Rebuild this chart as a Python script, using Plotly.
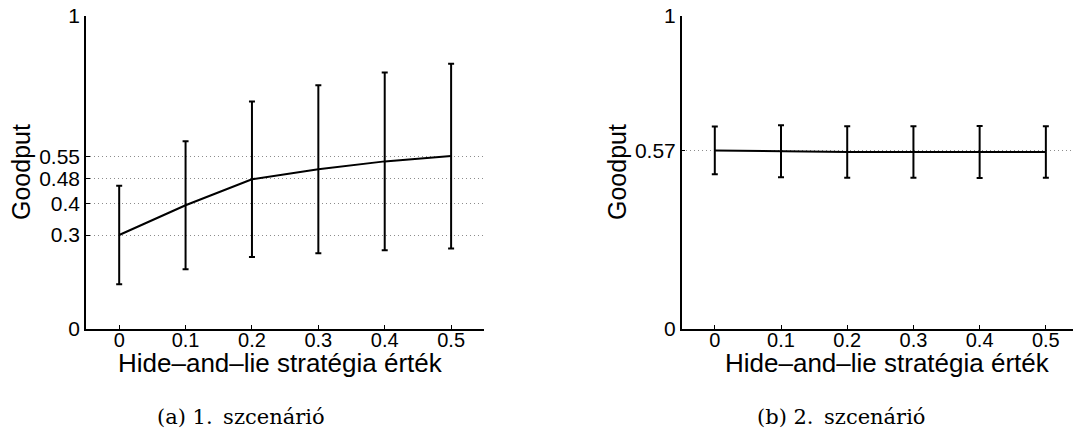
import plotly.graph_objects as go

# ---- data ----
strategy = [0, 0.1, 0.2, 0.3, 0.4, 0.5]
goodput_a = [0.300, 0.395, 0.478, 0.510, 0.535, 0.552]
err_a = [0.157, 0.204, 0.248, 0.268, 0.284, 0.295]
goodput_b = [0.570, 0.567, 0.565, 0.565, 0.565, 0.565]
err_b = [0.076, 0.083, 0.082, 0.082, 0.083, 0.082]
yticks_a = [0, 0.3, 0.4, 0.48, 0.55, 1]
yticks_b = [0, 0.57, 1]
xticks = [0, 0.1, 0.2, 0.3, 0.4, 0.5]
xlabel = "Hide\u2013and\u2013lie stratégia érték"
ylabel = "Goodput"
captions = ["(a) 1.\u2002szcenárió", "(b) 2.\u2002szcenárió"]

W, H = 1073, 429
SANS = "Liberation Sans, Arial, sans-serif"
SERIF = "DejaVu Serif, serif"

fig = go.Figure()
for ys, es, xa, ya in [(goodput_a, err_a, "x", "y"), (goodput_b, err_b, "x2", "y2")]:
    fig.add_trace(go.Scatter(
        x=strategy, y=ys, mode="lines", xaxis=xa, yaxis=ya,
        line=dict(color="black", width=2),
        error_y=dict(type="data", array=es, visible=True, color="black",
                     thickness=2, width=3),
        showlegend=False, hoverinfo="skip"))

ydom = [(H - 329) / H, (H - 15.7) / H]

def xaxis(dom, rng):
    return dict(domain=dom, range=rng, tickvals=xticks,
                ticktext=[("%g" % v) for v in xticks],
                ticks="inside", ticklen=4, tickwidth=1, tickcolor="black",
                showline=True, linecolor="black", linewidth=1.5,
                showgrid=False, zeroline=False, automargin=False,
                ticklabelstandoff=-8,
                tickfont=dict(family=SANS, size=20, color="black"))

def yaxis(anchor, ticks):
    return dict(domain=ydom, range=[0, 1], anchor=anchor, tickvals=ticks,
                ticktext=[("%g" % v) for v in ticks],
                ticks="inside", ticklen=4, tickwidth=1, tickcolor="black",
                showline=True, linecolor="black", linewidth=1.5,
                showgrid=True, gridcolor="#8c8c8c", griddash="1px,3px", gridwidth=1,
                zeroline=False, automargin=False,
                tickfont=dict(family=SANS, size=21, color="black"))

fig.update_layout(
    template="none",
    width=W, height=H,
    margin=dict(l=0, r=0, t=0, b=0, pad=0, autoexpand=False),
    paper_bgcolor="white", plot_bgcolor="white",
    xaxis=dict(xaxis([86 / W, 484.3 / W], [-0.05, 0.55]), anchor="y"),
    yaxis=yaxis("x", yticks_a),
    xaxis2=dict(xaxis([681.7 / W, 1.0], [-0.05, 0.541]), anchor="y2"),
    yaxis2=yaxis("x2", yticks_b),
)

annotations = []
for cx, cy_x, gx in [(280.3, 363, 21), (887, 363, 617)]:
    annotations.append(dict(x=cx / W, y=1 - cy_x / H, xref="paper", yref="paper",
                            text=xlabel, showarrow=False, xanchor="center", yanchor="middle",
                            font=dict(family=SANS, size=26, color="black")))
    annotations.append(dict(x=gx / W, y=1 - 172 / H, xref="paper", yref="paper",
                            text=ylabel, showarrow=False, textangle=-90,
                            xanchor="center", yanchor="middle",
                            font=dict(family=SANS, size=25, color="black")))
for cx, txt in [(241.3, captions[0]), (841, captions[1])]:
    annotations.append(dict(x=cx / W, y=1 - 417 / H, xref="paper", yref="paper",
                            text=txt, showarrow=False, xanchor="center", yanchor="middle",
                            font=dict(family=SERIF, size=21, color="black")))
fig.update_layout(annotations=annotations)

fig.write_html("out.html",
               config={"displayModeBar": False},
               post_script="document.body.style.margin='0';document.body.style.overflow='hidden';")
